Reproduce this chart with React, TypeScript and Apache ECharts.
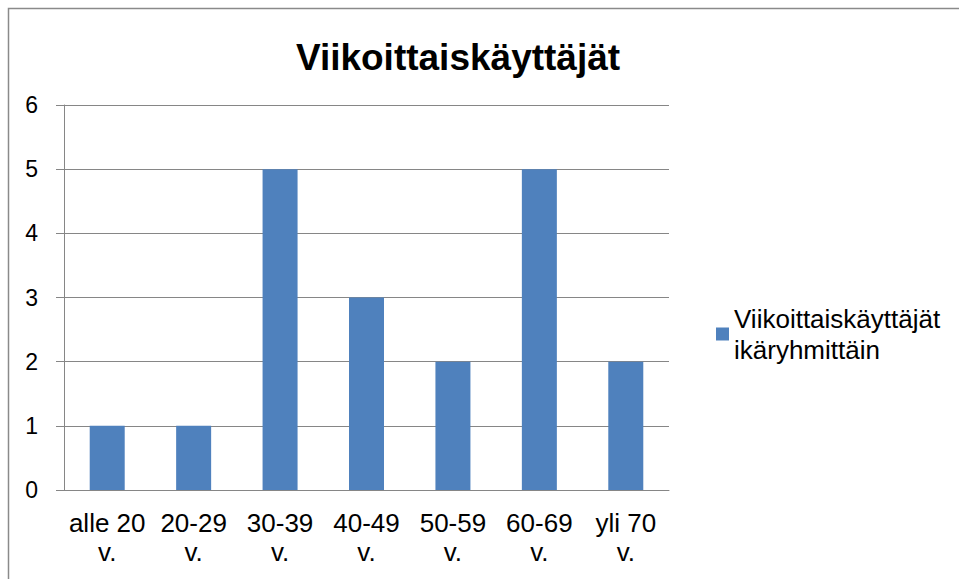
import React, { useEffect, useRef } from "react";
import * as echarts from "echarts";

const categories = ["alle 20\nv.", "20-29\nv.", "30-39\nv.", "40-49\nv.", "50-59\nv.", "60-69\nv.", "yli 70\nv."];
const values = [1, 1, 5, 3, 2, 5, 2];
const seriesName = "Viikoittaiskäyttäjät\nikäryhmittäin";
const titleText = "Viikoittaiskäyttäjät";

export default function App() {
  const ref = useRef<HTMLDivElement>(null);
  useEffect(() => {
    if (!ref.current) return;
    const chart = echarts.init(ref.current, null, { renderer: "svg" });
    const font = "'Liberation Sans', Arial, sans-serif";
    chart.setOption({
      animation: false,
      backgroundColor: "#ffffff",
      title: {
        text: titleText,
        left: 453,
        textAlign: "center",
        top: 34,
        textStyle: { fontFamily: font, fontSize: 37, fontWeight: "bold", color: "#000" },
      },
      legend: {
        left: 711,
        top: 298,
        orient: "vertical",
        icon: "rect",
        itemWidth: 13,
        itemHeight: 13,
        itemGap: 5,
        textStyle: { fontFamily: font, fontSize: 26, color: "#000", lineHeight: 31 },
        data: [seriesName],
      },
      grid: { left: 64, right: 290, top: 105, bottom: 89, containLabel: false },
      xAxis: {
        type: "category",
        data: categories,
        axisLine: { lineStyle: { color: "#868686", width: 1 } },
        axisTick: { length: 8, lineStyle: { color: "#868686" } },
        axisLabel: {
          interval: 0,
          margin: 18,
          fontFamily: font,
          fontSize: 26,
          color: "#000",
          lineHeight: 29,
        },
      },
      yAxis: {
        type: "value",
        min: 0,
        max: 6,
        interval: 1,
        axisLine: { show: true, lineStyle: { color: "#868686", width: 1 } },
        axisTick: { show: true, length: 8, lineStyle: { color: "#868686" } },
        splitLine: { lineStyle: { color: "#868686", width: 1 } },
        axisLabel: { margin: 26, fontFamily: font, fontSize: 23, color: "#000" },
      },
      series: [
        {
          name: seriesName,
          type: "bar",
          data: values,
          barWidth: 35,
          itemStyle: { color: "#4F81BD" },
        },
      ],
      graphic: [
        {
          type: "rect",
          shape: { x: 8.5, y: 8.5, width: 1200, height: 1200 },
          style: { fill: "none", stroke: "#8a8a8a", lineWidth: 1.5 },
          silent: true,
        },
      ],
    });
    return () => chart.dispose();
  }, []);
  return (
    <div
      ref={ref}
      style={{ position: "fixed", left: 0, top: 0, width: 959, height: 579 }}
    />
  );
}
